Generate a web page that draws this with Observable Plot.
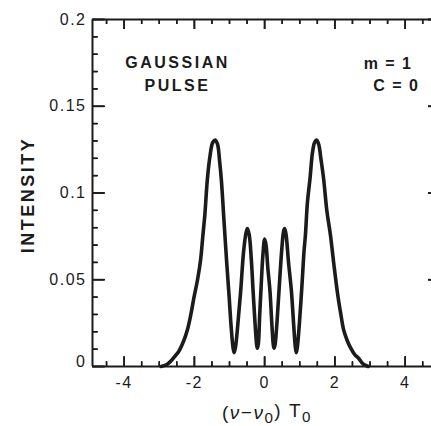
<!DOCTYPE html>
<html>
<head>
<meta charset="utf-8">
<style>
  html, body { margin: 0; padding: 0; background: #ffffff; }
  #chart { width: 431px; height: 426px; }
</style>
</head>
<body>
<div id="chart"></div>
<script src="https://cdn.jsdelivr.net/npm/d3@7"></script>
<script src="https://cdn.jsdelivr.net/npm/@observablehq/plot@0.6"></script>
<script>
// ---- data ----
const nu = [
  -2.95, -2.8, -2.7, -2.55, -2.45, -2.30, -2.20, -2.10, -2.01, -1.91,
  -1.82, -1.76, -1.70, -1.63, -1.55, -1.48, -1.41, -1.34, -1.28, -1.23,
  -1.16, -1.08, -1.01, -0.95, -0.90, -0.87, -0.83, -0.76, -0.68, -0.60,
  -0.53, -0.49, -0.44, -0.38, -0.33, -0.27, -0.23, -0.21, -0.18, -0.14,
  -0.105, -0.05, 0.0, 0.04, 0.09, 0.15, 0.21, 0.25, 0.27, 0.30,
  0.35, 0.41, 0.49, 0.54, 0.57, 0.61, 0.68, 0.76, 0.83, 0.87,
  0.90, 0.93, 0.99, 1.06, 1.12, 1.16, 1.22, 1.29, 1.36, 1.42,
  1.48, 1.54, 1.60, 1.68, 1.77, 1.875, 1.97, 2.09, 2.17, 2.25,
  2.35, 2.44, 2.56, 2.68, 2.80, 2.95
];
const intensity = [
  0.0, 0.001, 0.0025, 0.006, 0.0085, 0.015, 0.021, 0.030, 0.040, 0.050,
  0.062, 0.075, 0.088, 0.108, 0.122, 0.129, 0.1305, 0.128, 0.118, 0.107,
  0.085, 0.060, 0.040, 0.022, 0.011, 0.008, 0.011, 0.025, 0.044, 0.066,
  0.077, 0.0795, 0.076, 0.062, 0.044, 0.024, 0.013, 0.0105, 0.013, 0.030,
  0.044, 0.064, 0.0735, 0.070, 0.057, 0.044, 0.023, 0.012, 0.0105, 0.013,
  0.025, 0.044, 0.068, 0.078, 0.0795, 0.076, 0.060, 0.044, 0.023, 0.012,
  0.008, 0.011, 0.025, 0.046, 0.066, 0.0755, 0.095, 0.108, 0.123, 0.129,
  0.1305, 0.128, 0.120, 0.108, 0.090, 0.0755, 0.059, 0.040, 0.030, 0.021,
  0.015, 0.011, 0.007, 0.0046, 0.0015, 0.0
];
const xDomain = [-4.9, 4.75];
const yDomain = [0, 0.2];
const xMajorTicks = [-4, -2, 0, 2, 4];
const xMinorTicks = [-4.5, -3.5, -3, -2.5, -1.5, -1, -0.5, 0.5, 1, 1.5, 2.5, 3, 3.5, 4.5];
const yTickLabels = [0.05, 0.1, 0.15, 0.2];
const yZeroLabel = [0];
const yMajorTicks = [0, 0.05, 0.1, 0.15, 0.2];
const yMinorTicks = [0.01, 0.02, 0.03, 0.04, 0.06, 0.07, 0.08, 0.09, 0.11, 0.12, 0.13, 0.14, 0.16, 0.17, 0.18, 0.19];
const yLabel = "INTENSITY";
const xLabel = "(ν−ν0) T0";
const noteLeft = ["GAUSSIAN", "PULSE"];
const noteRight = ["m = 1", "C = 0"];

const points = nu.map((x, i) => ({x, y: intensity[i]}));

// ---- layout ----
const W = 431, H = 426;
const mL = 92, mR = 0, mT = 19, mB = 60;
const innerW = W - mL - mR, innerH = H - mT - mB;
const ink = "#1b1b1b";
const font = "'Liberation Sans', Arial, Helvetica, sans-serif";
const yPerPx = (yDomain[1] - yDomain[0]) / innerH;
const xPerPx = (xDomain[1] - xDomain[0]) / innerW;
const majorLen = 10, minorLen = 5, leftMajorLen = 12, rightLen = 3;
const noLabel = () => "";

// inward ticks drawn with the axis marks' own tick shapes (no labels)
const tickOnly = {tickFormat: noLabel, fill: "none", label: null, stroke: ink};
const innerTicks = [
  // bottom (anchored to the top edge, shifted down by the frame height, pointing up)
  Plot.axisX({anchor: "top", ticks: xMajorTicks, tickSize: majorLen, dy: innerH, strokeWidth: 1.7, ...tickOnly}),
  Plot.axisX({anchor: "top", ticks: xMinorTicks, tickSize: minorLen, dy: innerH, strokeWidth: 1.5, ...tickOnly}),
  // top (anchored to the bottom edge, shifted up, pointing down)
  Plot.axisX({anchor: "bottom", ticks: xMajorTicks, tickSize: majorLen, dy: -innerH, strokeWidth: 1.7, ...tickOnly}),
  Plot.axisX({anchor: "bottom", ticks: xMinorTicks, tickSize: minorLen, dy: -innerH, strokeWidth: 1.5, ...tickOnly}),
  // left (anchored to the right edge, shifted left, pointing right)
  Plot.axisY({anchor: "right", ticks: yMajorTicks, tickSize: leftMajorLen, dx: -innerW, strokeWidth: 1.7, ...tickOnly}),
  Plot.axisY({anchor: "right", ticks: yMinorTicks, tickSize: minorLen, dx: -innerW, strokeWidth: 1.5, ...tickOnly}),
  // right (anchored to the left edge, shifted right, pointing left)
  Plot.axisY({anchor: "left", ticks: yTickLabels, tickSize: rightLen, dx: innerW, strokeWidth: 1.7, ...tickOnly})
];

const chart = Plot.plot({
  width: W, height: H,
  marginLeft: mL, marginRight: mR, marginTop: mT, marginBottom: mB,
  x: {domain: xDomain},
  y: {domain: yDomain},
  style: {fontFamily: font, color: ink, background: "#ffffff", overflow: "visible"},
  marks: [
    // curve
    Plot.line(points, {x: "x", y: "y", curve: "catmull-rom", stroke: ink, strokeWidth: 3.6, strokeLinejoin: "round"}),
    // tick labels
    Plot.axisX({ticks: xMajorTicks, tickSize: 0, tickPadding: 10, fontSize: 16, tickFormat: d => String(d), label: null}),
    Plot.axisY({ticks: yTickLabels, tickSize: 0, tickPadding: 6, fontSize: 16, tickFormat: d => String(d), label: null}),
    Plot.axisY({ticks: yZeroLabel, tickSize: 0, tickPadding: 6, fontSize: 16, tickFormat: d => String(d), label: null, dy: -5}),
    // axis titles
    Plot.text([yLabel], {frameAnchor: "left", textAnchor: "middle", lineAnchor: "middle", dx: -64, dy: 2, rotate: -90, text: d => d, fontSize: 18, fontWeight: "bold", fill: ink}),
    Plot.text([xLabel], {frameAnchor: "bottom", textAnchor: "middle", lineAnchor: "middle", dx: 5, dy: 46, text: d => d, fontSize: 19, fill: ink}),
    // annotations
    Plot.text([noteLeft[0]], {frameAnchor: "top-left", textAnchor: "middle", lineAnchor: "middle", dx: 85, dy: 43, text: d => d, fontSize: 16, fontWeight: "bold", fill: ink}),
    Plot.text([noteLeft[1]], {frameAnchor: "top-left", textAnchor: "middle", lineAnchor: "middle", dx: 85, dy: 66, text: d => d, fontSize: 16, fontWeight: "bold", fill: ink}),
    Plot.text([noteRight[0]], {frameAnchor: "top-right", textAnchor: "end", lineAnchor: "middle", dx: -19, dy: 44, text: d => d, fontSize: 16, fontWeight: "bold", fill: ink}),
    Plot.text([noteRight[1]], {frameAnchor: "top-right", textAnchor: "end", lineAnchor: "middle", dx: -12, dy: 66, text: d => d, fontSize: 16, fontWeight: "bold", fill: ink}),
    // frame (left, bottom, top)
    Plot.ruleX([xDomain[0]], {stroke: ink, strokeWidth: 2}),
    Plot.ruleY([yDomain[0]], {stroke: ink, strokeWidth: 2}),
    Plot.ruleY([yDomain[1]], {stroke: ink, strokeWidth: 2}),
    // inward ticks as rules too (same positions)
    Plot.ruleX(xMajorTicks, {x: d => d, y1: yDomain[0], y2: yDomain[0] + majorLen * yPerPx, stroke: ink, strokeWidth: 1.7}),
    Plot.ruleX(xMinorTicks, {x: d => d, y1: yDomain[0], y2: yDomain[0] + minorLen * yPerPx, stroke: ink, strokeWidth: 1.5}),
    Plot.ruleX(xMajorTicks, {x: d => d, y1: yDomain[1] - majorLen * yPerPx, y2: yDomain[1], stroke: ink, strokeWidth: 1.7}),
    Plot.ruleX(xMinorTicks, {x: d => d, y1: yDomain[1] - minorLen * yPerPx, y2: yDomain[1], stroke: ink, strokeWidth: 1.5}),
    Plot.ruleY(yMajorTicks, {y: d => d, x1: xDomain[0], x2: xDomain[0] + leftMajorLen * xPerPx, stroke: ink, strokeWidth: 1.7}),
    Plot.ruleY(yMinorTicks, {y: d => d, x1: xDomain[0], x2: xDomain[0] + minorLen * xPerPx, stroke: ink, strokeWidth: 1.5}),
    Plot.ruleY(yTickLabels, {y: d => d, x1: xDomain[1] - rightLen * xPerPx, x2: xDomain[1], stroke: ink, strokeWidth: 1.7}),
    ...innerTicks
  ]
});

document.getElementById("chart").appendChild(chart);

// ---- typographic touches ----
const svg = d3.select(chart);
svg.selectAll("text").each(function() {
  const t = this.textContent;
  const sel = d3.select(this);
  if (t === "") sel.remove();
  else if (t === yLabel) sel.attr("letter-spacing", 2.5);
  else if (noteLeft.includes(t)) sel.attr("letter-spacing", 2.5);
  else if (noteRight.includes(t)) sel.attr("letter-spacing", 1.5);
});
svg.selectAll("g[aria-label='x-axis tick label'] text, g[aria-label='y-axis tick label'] text")
  .attr("letter-spacing", 1.5);

// x label with italic nu and subscripts
svg.selectAll("text").filter(function() { return this.textContent === xLabel; }).each(function() {
  const sel = d3.select(this);
  sel.text(null).attr("letter-spacing", 1.5);
  const parts = [
    {s: "(", st: "normal", sub: false},
    {s: "ν", st: "italic", sub: false},
    {s: "−", st: "normal", sub: false},
    {s: "ν", st: "italic", sub: false},
    {s: "0", st: "normal", sub: true},
    {s: ") T", st: "normal", sub: false},
    {s: "0", st: "normal", sub: true}
  ];
  let shifted = false;
  parts.forEach(p => {
    const ts = sel.append("tspan").text(p.s).attr("font-style", p.st);
    if (p.sub && !shifted) { ts.attr("dy", "0.3em").attr("font-size", "0.8em"); shifted = true; }
    else if (p.sub && shifted) { ts.attr("font-size", "0.8em"); }
    else if (!p.sub && shifted) { ts.attr("dy", "-0.3em"); shifted = false; }
  });
});
</script>
</body>
</html>
